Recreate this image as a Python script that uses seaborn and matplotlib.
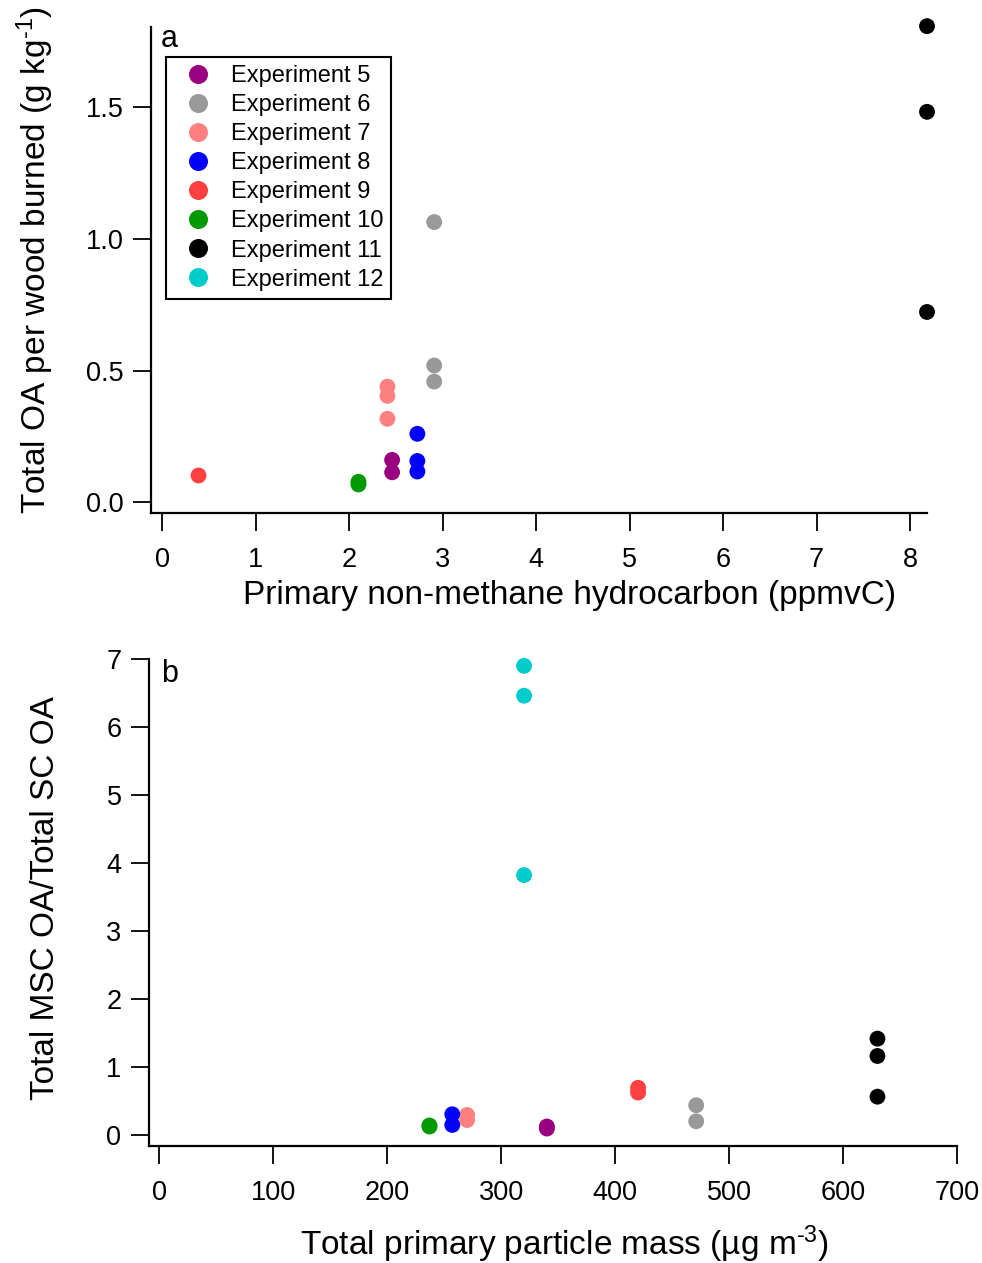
import numpy as np
import pandas as pd
import seaborn as sns
import matplotlib.pyplot as plt
from matplotlib import rcParams

# legend order and colours
experiments = ["Experiment 5", "Experiment 6", "Experiment 7", "Experiment 8",
               "Experiment 9", "Experiment 10", "Experiment 11", "Experiment 12"]
exp_colors = ["#990080", "#999999", "#ff8080", "#0000ff",
              "#ff4040", "#009900", "#000000", "#00cccc"]

# panel a: primary NMHC vs total OA per wood burned
nmhc_exp = [5, 5, 6, 6, 6, 7, 7, 7, 8, 8, 8, 9, 10, 10, 11, 11, 11]
nmhc = [2.46, 2.46, 2.91, 2.91, 2.91, 2.41, 2.41, 2.41, 2.73, 2.73, 2.73,
        0.39, 2.10, 2.10, 8.18, 8.18, 8.18]
oa_per_wood = [0.161, 0.114, 1.063, 0.519, 0.458, 0.439, 0.404, 0.317,
               0.260, 0.157, 0.117, 0.102, 0.068, 0.078, 1.806, 1.481, 0.722]

# panel b: total primary particle mass vs MSC OA / SC OA
pm_exp = [5, 5, 6, 6, 7, 7, 8, 8, 9, 9, 10, 10, 11, 11, 11, 12, 12, 12]
pm_mass = [340, 340, 471, 471, 270, 270, 257, 257, 420, 420, 237, 237,
           630, 630, 630, 320, 320, 320]
msc_ratio = [0.09, 0.12, 0.433, 0.197, 0.29, 0.215, 0.30, 0.143, 0.62, 0.69,
             0.12, 0.135, 1.413, 1.158, 0.559, 6.90, 6.46, 3.82]


def make_df(exp, x, y):
    return pd.DataFrame({"exp": ["Experiment %d" % e for e in exp], "x": x, "y": y})


sns.set_theme(style="ticks")
rcParams['font.family'] = ['Liberation Sans', 'DejaVu Sans']
rcParams['mathtext.fontset'] = 'custom'
rcParams['mathtext.rm'] = 'Liberation Sans'
rcParams['mathtext.default'] = 'regular'
rcParams['axes.unicode_minus'] = False
rcParams['text.color'] = 'black'
rcParams['axes.labelcolor'] = 'black'

palette = dict(zip(experiments, exp_colors))

fig = plt.figure(figsize=(9.82, 12.63), dpi=100)
ax1 = fig.add_axes([0.1538, 0.5941, 0.7902, 0.3848])
ax2 = fig.add_axes([0.1520, 0.0929, 0.8228, 0.3853])

df_a = make_df(nmhc_exp, nmhc, oa_per_wood)
df_b = make_df(pm_exp, pm_mass, msc_ratio)

sns.scatterplot(data=df_a, x="x", y="y", hue="exp", hue_order=experiments,
                palette=palette, s=130, linewidth=0, clip_on=False, ax=ax1)
sns.scatterplot(data=df_b, x="x", y="y", hue="exp", hue_order=experiments,
                palette=palette, s=130, linewidth=0, clip_on=False, ax=ax2,
                legend=False)

ax1.set_xlim(-0.118, 8.18)
ax1.set_ylim(-0.039, 1.804)
ax1.set_xticks(range(0, 9))
ax1.set_yticks([0.0, 0.5, 1.0, 1.5])
ax1.set_yticklabels(["0.0", "0.5", "1.0", "1.5"])

ax2.set_xlim(-8.8, 700)
ax2.set_ylim(-0.162, 7)
ax2.set_xticks(range(0, 701, 100))
ax2.set_yticks(range(0, 8))

for ax in (ax1, ax2):
    sns.despine(ax=ax)
    for s in ("left", "bottom"):
        ax.spines[s].set_linewidth(1.6)
        ax.spines[s].set_color("black")
    ax.tick_params(axis="both", direction="out", length=13, width=1.3,
                   color="black", labelsize=19.5, labelcolor="black")
    ax.tick_params(axis="x", pad=11.5)
    ax.tick_params(axis="y", pad=7)

ax1.set_xlabel("Primary non-methane hydrocarbon (ppmvC)", fontsize=24, va="center")
ax1.set_ylabel(r"Total OA per wood burned (g kg$^{\text{-1}}$)", fontsize=24, va="center")
ax1.xaxis.set_label_coords(0.54, -0.171)
ax1.yaxis.set_label_coords(-0.149, 0.52)

ax2.set_xlabel("Total primary particle mass (\u00b5g m$^{\\text{-3}}$)", fontsize=24, va="center")
ax2.set_ylabel("Total MSC OA/Total SC OA", fontsize=24, va="center")
ax2.xaxis.set_label_coords(0.514, -0.203)
ax2.yaxis.set_label_coords(-0.129, 0.509)

ax1.text(0.013, 0.975, "a", transform=ax1.transAxes, fontsize=22, va="center", ha="left")
ax2.text(0.015, 0.97, "b", transform=ax2.transAxes, fontsize=22, va="center", ha="left")

leg = ax1.legend(loc="upper left", bbox_to_anchor=(0.019, 0.938), borderaxespad=0,
                 fontsize=17, frameon=True, fancybox=False, framealpha=1,
                 edgecolor="black", borderpad=0.35, labelspacing=0.3,
                 handlelength=2.0, handletextpad=0.4, markerscale=1.2)
leg.get_frame().set_linewidth(1.5)

plt.savefig("out.png", dpi=100)
